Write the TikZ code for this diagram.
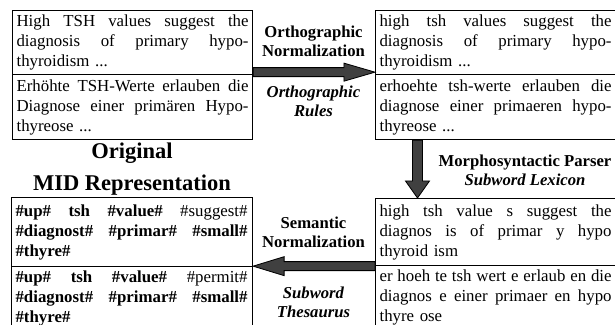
\documentclass[tikz,border=0pt]{standalone}
\usepackage{fontspec}
\setmainfont{Liberation Serif}
\usetikzlibrary{calc}
\newdimen\jlwidth
\jlwidth=139.2pt
\newcommand\jl[1]{\hbox to\jlwidth{\spaceskip=0.25em plus 1fil minus 0.08em\relax #1}}
\newcommand\lastline[1]{\hbox{#1}}
\begin{document}
\begin{tikzpicture}[x=0.6pt,y=-0.6pt,
  textbox/.style={draw, line width=0.7pt, rectangle, anchor=north west,
    inner xsep=2.4pt, inner ysep=0pt, text width=#1,
    font=\fontsize{10.1}{12}\selectfont},
  heading/.style={align=center, font=\bfseries\fontsize{10}{11.6}\selectfont},
  bigarrow/.style={fill=black!75, draw=black, line width=0.5pt}]
\useasboundingbox (0,0) rectangle (615,325);
\clip (0,0) rectangle (615,325);

% top left: original texts
\node[textbox=139.2pt, minimum height=38.4pt] (o1) at (12,10) {%
\jl{High TSH values suggest the}
\jl{diagnosis of primary hypo-}
\lastline{thyroidism ...}};
\node[textbox=139.2pt, minimum height=39pt] (o2) at (12,74) {%
\jl{Erhöhte TSH-Werte erlauben die}
\jl{Diagnose einer primären Hypo-}
\lastline{thyreose ...}};

% top right: orthographically normalized
\node[textbox=139.8pt, minimum height=38.4pt] (n1) at (375,10) {%
\jl{high tsh values suggest the}
\jl{diagnosis of primary hypo-}
\lastline{thyroidism ...}};
\node[textbox=139.8pt, minimum height=39pt] (n2) at (375,74) {%
\jl{erhoehte tsh-werte erlauben die}
\jl{diagnose einer primaeren hypo-}
\lastline{thyreose ...}};

% bottom right: segmented
\node[textbox=139.8pt, minimum height=40.2pt] (m1) at (375,198) {%
\jl{high tsh value s suggest the}
\jl{diagnos is of primar y hypo}
\lastline{thyroid ism}};
\node[textbox=139.8pt, minimum height=38.4pt] (m2) at (375,265) {%
\jl{er hoeh te tsh wert e erlaub en die}
\jl{diagnos e einer primaer en hypo}
\lastline{thyre ose}};

% bottom left: MID representation
\node[textbox=139.8pt, minimum height=41.4pt] (s1) at (11,197) {%
\jl{\textbf{\#up\#} \textbf{tsh} \textbf{\#value\#} \#suggest\#}
\jl{\textbf{\#diagnost\#} \textbf{\#primar\#} \textbf{\#small\#}}
\lastline{\textbf{\#thyre\#}}};
\node[textbox=139.8pt, minimum height=38.4pt] (s2) at (11,266) {%
\jl{\textbf{\#up\#} \textbf{tsh} \textbf{\#value\#} \#permit\#}
\jl{\textbf{\#diagnost\#} \textbf{\#primar\#} \textbf{\#small\#}}
\lastline{\textbf{\#thyre\#}}};

% labels
\node[heading] (l1) at (313.5,41) {Orthographic\\Normalization};
\node[heading] (l2) at (313.5,101) {\itshape Orthographic\\\itshape Rules};
\node[heading] (l3) at (525,170) {Morphosyntactic Parser\\\itshape Subword Lexicon};
\node[heading] (l4) at (313.5,232) {Semantic\\Normalization};
\node[heading] (l5) at (313.5,302) {\itshape Subword\\\itshape Thesaurus};
\node[align=center, font=\bfseries\fontsize{13.5}{19.2}\selectfont] (l6) at (132,169)
  {Original\\MID Representation};

% arrow 1: orthographic normalization
\coordinate (a1s) at ($(o1.south east)+(0,-3)$);
\coordinate (a1e) at ($(n1.south west)+(0,-3)$);
\draw[bigarrow] ($(a1s)+(0,-4.5)$) -- ($(a1e)+(-31,-4.5)$) -- ($(a1e)+(-31,-9)$)
  -- (a1e) -- ($(a1e)+(-31,9)$) -- ($(a1e)+(-31,4.5)$) -- ($(a1s)+(0,4.5)$) -- cycle;

% arrow 2: morphosyntactic parser
\coordinate (a2s) at ($(n2.south west)+(42.5,0)$);
\coordinate (a2e) at ($(m1.north west)+(42.5,0)$);
\draw[bigarrow] ($(a2s)+(-5,0)$) -- ($(a2e)+(-5,-17)$) -- ($(a2e)+(-12,-17)$)
  -- (a2e) -- ($(a2e)+(12,-17)$) -- ($(a2e)+(5,-17)$) -- ($(a2s)+(5,0)$) -- cycle;

% arrow 3: semantic normalization
\coordinate (a3s) at (m1.south west);
\coordinate (a3e) at (s1.south east |- m1.south west);
\draw[bigarrow] ($(a3s)+(0,-4.5)$) -- ($(a3e)+(31,-4.5)$) -- ($(a3e)+(31,-9.5)$)
  -- (a3e) -- ($(a3e)+(31,9.5)$) -- ($(a3e)+(31,4.5)$) -- ($(a3s)+(0,4.5)$) -- cycle;
\end{tikzpicture}
\end{document}
